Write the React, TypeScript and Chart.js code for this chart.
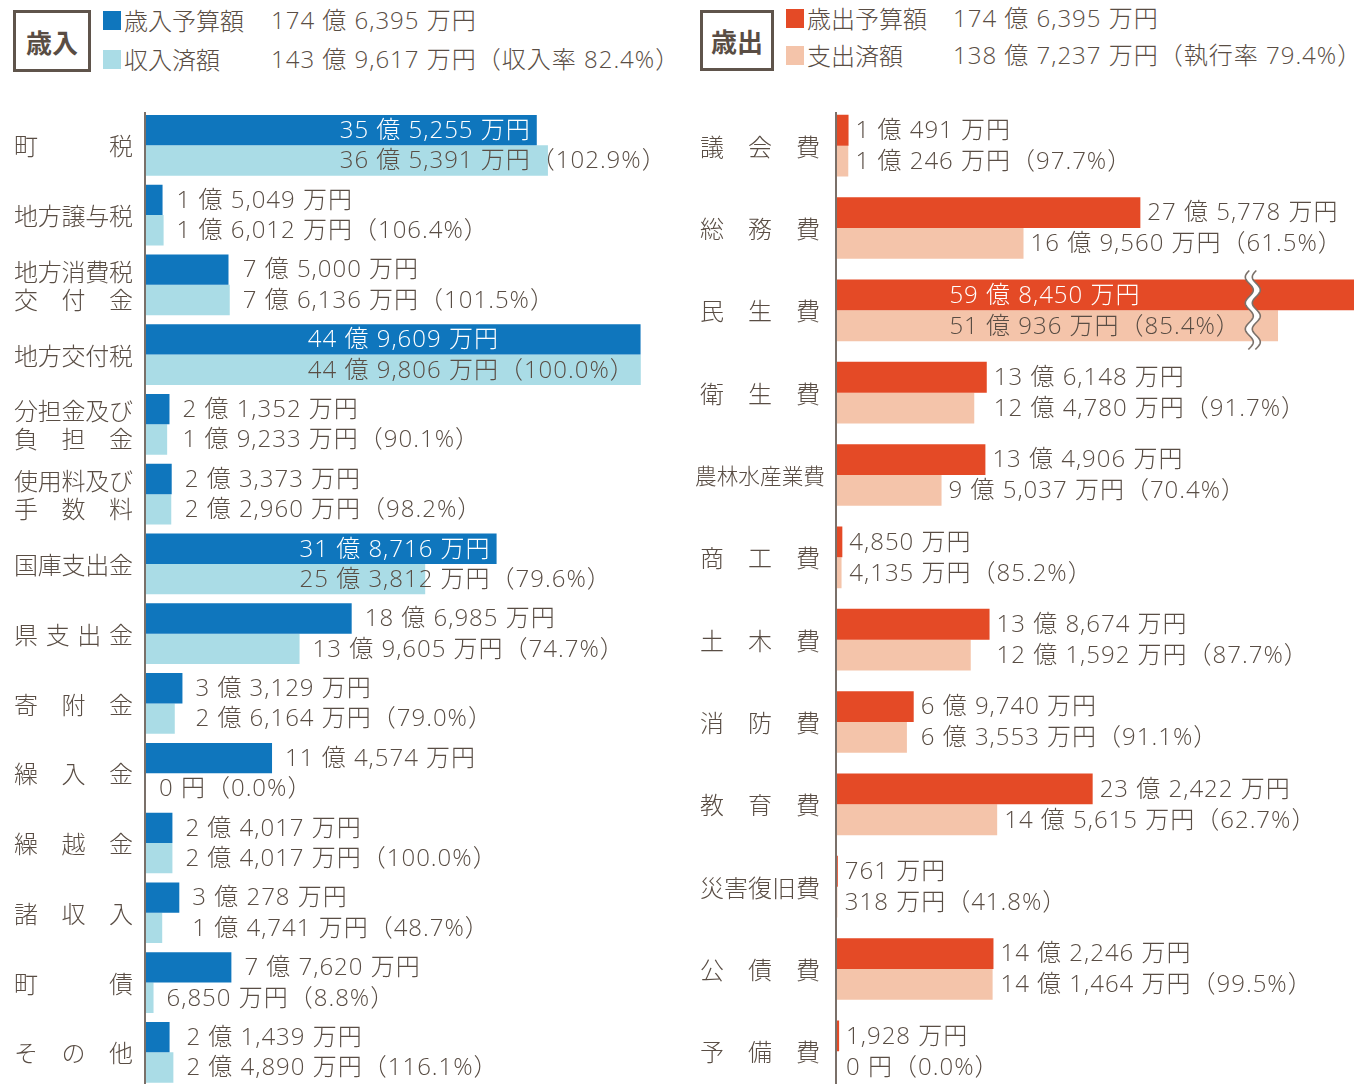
import React, { useEffect, useRef } from 'react';
import { Chart, registerables } from 'chart.js';

Chart.register(...registerables);

const FONT = "'Noto Sans CJK JP', 'Noto Sans', sans-serif";
const VAL_FONT_FAMILY = "'Open Sans', 'Noto Sans CJK JP', sans-serif";
const TEXT_COLOR = '#594d44';
const AXIS_COLOR = '#7a7069';

// ---------- 歳入 (revenue), values in 万円 ----------
const revenueCategories: (string | string[])[] = [
  '町税',
  '地方譲与税',
  ['地方消費税', '交付金'],
  '地方交付税',
  ['分担金及び', '負担金'],
  ['使用料及び', '手数料'],
  '国庫支出金',
  '県支出金',
  '寄附金',
  '繰入金',
  '繰越金',
  '諸収入',
  '町債',
  'その他',
];
const revenueBudget = [355255, 15049, 75000, 449609, 21352, 23373, 318716, 186985, 33129, 114574, 24017, 30278, 77620, 21439];
const revenueActual = [365391, 16012, 76136, 449806, 19233, 22960, 253812, 139605, 26164, 0, 24017, 14741, 6850, 24890];
const revenueRate = [102.9, 106.4, 101.5, 100.0, 90.1, 98.2, 79.6, 74.7, 79.0, 0.0, 100.0, 48.7, 8.8, 116.1];

// ---------- 歳出 (expenditure), values in 万円 ----------
const expenditureCategories: string[] = [
  '議会費', '総務費', '民生費', '衛生費', '農林水産業費', '商工費',
  '土木費', '消防費', '教育費', '災害復旧費', '公債費', '予備費',
];
const expenditureBudget = [10491, 275778, 598450, 136148, 134906, 4850, 138674, 69740, 232422, 761, 142246, 1928];
const expenditureActual = [10246, 169560, 510936, 124780, 95037, 4135, 121592, 63553, 145615, 318, 141464, 0];
const expenditureRate = [97.7, 61.5, 85.4, 91.7, 70.4, 85.2, 87.7, 91.1, 62.7, 41.8, 99.5, 0.0];

// ---------- header (legend) texts ----------
const revenueTitle = '歳入';
const revenueLegend = ['歳入予算額', '収入済額'];
const revenueTotals = ['174 億 6,395 万円', '143 億 9,617 万円（収入率 82.4%）'];
const expenditureTitle = '歳出';
const expenditureLegend = ['歳出予算額', '支出済額'];
const expenditureTotals = ['174 億 6,395 万円', '138 億 7,237 万円（執行率 79.4%）'];

const REV_COLORS = ['#0f76bd', '#aadce6'];
const EXP_COLORS = ['#e44a26', '#f4c4aa'];

const AXIS_TOP = 112;
const CANVAS_H = 1094;
const INSIDE_MIN = 30; // 億: bars longer than this carry their labels inside
const EXP_BREAK = { at: 37.8, gap: 11 }; // 億: axis break for the 民生費 bars

function fmtMan(v: number): string {
  if (v === 0) return '0 円';
  const oku = Math.floor(v / 10000);
  const man = v % 10000;
  const parts: string[] = [];
  if (oku > 0) parts.push(`${oku} 億`);
  if (man > 0) parts.push(`${man.toLocaleString('en-US')} 万円`);
  else parts.push('万円');
  return parts.join(' ');
}

type Brk = { at: number; gap: number } | null;

type PanelCfg = {
  categories: (string | string[])[];
  budget: number[];
  actual: number[];
  rate: number[];
  colors: string[];
  left: number;
  width: number;
  padding: { left: number; right: number; top: number; bottom: number };
  max: number;
  categoryPercentage: number;
  labelX: [number, number];
  gap: number;
  brk: Brk;
};

function drawJustified(ctx: CanvasRenderingContext2D, text: string, x1: number, x2: number, y: number, fs: number) {
  const chars = Array.from(text);
  ctx.font = `300 ${fs}px ${FONT}`;
  let widths = chars.map((c) => ctx.measureText(c).width);
  let total = widths.reduce((a, b) => a + b, 0);
  const W = x2 - x1;
  if (total > W + 3) {
    const target = W + 10;
    const nf = (fs * target) / total;
    ctx.font = `300 ${nf}px ${FONT}`;
    widths = chars.map((c) => ctx.measureText(c).width);
    total = widths.reduce((a, b) => a + b, 0);
    let x = (x1 + x2) / 2 - total / 2;
    chars.forEach((c, i) => {
      ctx.fillText(c, x, y);
      x += widths[i];
    });
    return;
  }
  if (chars.length === 1) {
    ctx.fillText(chars[0], x1, y);
    return;
  }
  const sp = (W - total) / (chars.length - 1);
  let x = x1;
  chars.forEach((c, i) => {
    ctx.fillText(c, x, y);
    x += widths[i] + sp;
  });
}

function makePlugin(cfg: PanelCfg) {
  return {
    id: 'panelDecor',
    afterDatasetsDraw(chart: any) {
      const ctx: CanvasRenderingContext2D = chart.ctx;
      const area = chart.chartArea;
      const xs = chart.scales.x;
      const ys = chart.scales.y;
      const m0 = chart.getDatasetMeta(0);
      const m1 = chart.getDatasetMeta(1);
      ctx.save();

      // axis line
      ctx.strokeStyle = AXIS_COLOR;
      ctx.lineWidth = 2;
      ctx.beginPath();
      ctx.moveTo(area.left - 1, AXIS_TOP);
      ctx.lineTo(area.left - 1, chart.height);
      ctx.stroke();

      const isBroken = (v: number) => !!cfg.brk && v / 10000 > cfg.brk.at;
      const breakPx = cfg.brk ? xs.getPixelForValue(cfg.brk.at) : 0;

      // break symbol
      if (cfg.brk) {
        cfg.budget.forEach((v, i) => {
          if (!isBroken(v)) return;
          const b = m0.data[i];
          const a = m1.data[i];
          const yTop = b.y - b.height / 2 - 9;
          const yBot = a.y + a.height / 2 + 9;
          const amp = 4;
          const wl = 26;
          const pts: number[][] = [];
          for (let y = yTop; y <= yBot + 0.01; y += 1) {
            pts.push([breakPx + amp * Math.sin((2 * Math.PI * (y - yTop)) / wl + Math.PI), y]);
          }
          const half = 3.5;
          ctx.fillStyle = '#ffffff';
          ctx.beginPath();
          pts.forEach(([x, y], k) => (k === 0 ? ctx.moveTo(x - half, y) : ctx.lineTo(x - half, y)));
          for (let k = pts.length - 1; k >= 0; k--) ctx.lineTo(pts[k][0] + half, pts[k][1]);
          ctx.closePath();
          ctx.fill();
          ctx.strokeStyle = AXIS_COLOR;
          ctx.lineWidth = 1.6;
          [-half, half].forEach((off) => {
            ctx.beginPath();
            pts.forEach(([x, y], k) => (k === 0 ? ctx.moveTo(x + off, y) : ctx.lineTo(x + off, y)));
            ctx.stroke();
          });
        });
      }

      // category labels
      ctx.fillStyle = TEXT_COLOR;
      ctx.textBaseline = 'middle';
      ctx.textAlign = 'left';
      cfg.categories.forEach((c, i) => {
        const y = ys.getPixelForValue(i);
        const lines = Array.isArray(c) ? c : [c];
        const lh = 28;
        lines.forEach((ln, j) => {
          drawJustified(ctx, ln, cfg.labelX[0], cfg.labelX[1], y + (j - (lines.length - 1) / 2) * lh + 1, 24);
        });
      });

      // value labels
      ctx.font = `300 24px ${VAL_FONT_FAMILY}`;
      try {
        (ctx as any).letterSpacing = '1px';
      } catch (e) {
        /* ignore */
      }
      cfg.budget.forEach((bv, i) => {
        const av = cfg.actual[i];
        const b = m0.data[i];
        const a = m1.data[i];
        const bt = fmtMan(bv);
        const at = `${fmtMan(av)}（${cfg.rate[i].toFixed(1)}%）`;
        const bEnd = Math.min(b.x, area.right);
        const aEnd = Math.min(a.x, area.right);
        const wb = ctx.measureText(bt).width;
        const wa = ctx.measureText(at).width;
        let xb: number;
        let xa: number;
        let bColor = TEXT_COLOR;
        if (bv / 10000 > INSIDE_MIN) {
          const bLimit = isBroken(bv) ? breakPx - 12 : bEnd - 6;
          const aLimit = isBroken(av) ? breakPx - 12 : aEnd - 6;
          const B = aLimit - wa;
          const x0 = B > area.left + 100 ? B : bLimit - wb;
          xb = x0;
          xa = x0;
          bColor = '#ffffff';
        } else if (Math.abs(bEnd - aEnd) < 30) {
          xb = xa = Math.max(bEnd, aEnd) + cfg.gap;
        } else {
          xb = bEnd + cfg.gap;
          xa = aEnd + cfg.gap;
        }
        ctx.fillStyle = bColor;
        ctx.fillText(bt, xb, b.y + 1);
        ctx.fillStyle = TEXT_COLOR;
        ctx.fillText(at, xa, a.y + 1);
      });
      try {
        (ctx as any).letterSpacing = '0px';
      } catch (e) {
        /* ignore */
      }

      ctx.restore();
    },
  };
}

function Panel({ cfg }: { cfg: PanelCfg }) {
  const ref = useRef<HTMLCanvasElement | null>(null);
  useEffect(() => {
    if (!ref.current) return;
    const toDisplay = (v: number) => {
      const u = v / 10000;
      if (cfg.brk && u > cfg.brk.at) return u - cfg.brk.gap;
      return u;
    };
    const chart = new Chart(ref.current, {
      type: 'bar',
      data: {
        labels: cfg.categories.map((c) => (Array.isArray(c) ? c.join('') : c)),
        datasets: [
          {
            data: cfg.budget.map(toDisplay),
            backgroundColor: cfg.colors[0],
            borderWidth: 0,
            barPercentage: 1,
            categoryPercentage: cfg.categoryPercentage,
          },
          {
            data: cfg.actual.map(toDisplay),
            backgroundColor: cfg.colors[1],
            borderWidth: 0,
            barPercentage: 1,
            categoryPercentage: cfg.categoryPercentage,
          },
        ],
      },
      options: {
        indexAxis: 'y',
        responsive: false,
        animation: false,
        devicePixelRatio: 1,
        layout: { padding: cfg.padding },
        plugins: { legend: { display: false }, tooltip: { enabled: false } },
        scales: {
          x: { type: 'linear', min: 0, max: cfg.max, display: false },
          y: { display: false },
        },
      },
      plugins: [makePlugin(cfg)],
    } as any);
    return () => chart.destroy();
  }, [cfg]);
  return (
    <canvas
      ref={ref}
      width={cfg.width}
      height={CANVAS_H}
      style={{ position: 'absolute', left: cfg.left, top: 0, width: cfg.width, height: CANVAS_H }}
    />
  );
}

const revenueCfg: PanelCfg = {
  categories: revenueCategories,
  budget: revenueBudget,
  actual: revenueActual,
  rate: revenueRate,
  colors: REV_COLORS,
  left: 0,
  width: 690,
  padding: { left: 146, right: 5, top: 110.4, bottom: CANVAS_H - 1087.2 },
  max: 49,
  categoryPercentage: 0.87,
  labelX: [14, 133],
  gap: 13,
  brk: null,
};

const expenditureCfg: PanelCfg = {
  categories: expenditureCategories,
  budget: expenditureBudget,
  actual: expenditureActual,
  rate: expenditureRate,
  colors: EXP_COLORS,
  left: 690,
  width: 664,
  padding: { left: 147, right: 0, top: 104.5, bottom: CANVAS_H - 1092.5 },
  max: 517 / 11,
  categoryPercentage: 0.748,
  labelX: [10, 130],
  gap: 7,
  brk: EXP_BREAK,
};

function Header({
  x, boxW, boxH, title, legend, totals, colors, rowY, sqX, textX, valX,
}: {
  x: number; boxW: number; boxH: number; title: string; legend: string[]; totals: string[];
  colors: string[]; rowY: number[]; sqX: number; textX: number; valX: number;
}) {
  const common: React.CSSProperties = {
    position: 'absolute',
    fontFamily: FONT,
    fontWeight: 300,
    fontSize: 24,
    color: TEXT_COLOR,
    lineHeight: '30px',
    height: 30,
    whiteSpace: 'nowrap',
  };
  return (
    <>
      <div
        style={{
          position: 'absolute',
          left: x,
          top: 10,
          width: boxW,
          height: boxH,
          boxSizing: 'border-box',
          border: `3px solid #5f544b`,
          display: 'flex',
          alignItems: 'center',
          justifyContent: 'center',
          fontFamily: FONT,
          fontWeight: 700,
          fontSize: 26,
          color: TEXT_COLOR,
        }}
      >
        {title}
      </div>
      {legend.map((l, i) => (
        <React.Fragment key={i}>
          <div style={{ position: 'absolute', left: sqX, top: rowY[i] - 9, width: 18, height: 19, background: colors[i] }} />
          <div style={{ ...common, left: textX, top: rowY[i] - 15 }}>{l}</div>
          <div style={{ ...common, fontFamily: VAL_FONT_FAMILY, letterSpacing: '1px', left: valX, top: rowY[i] - 15 }}>
            {totals[i]}
          </div>
        </React.Fragment>
      ))}
    </>
  );
}

export default function App() {
  return (
    <div
      style={{
        position: 'fixed',
        left: 0,
        top: 0,
        width: 1354,
        height: 1084,
        overflow: 'hidden',
        background: '#ffffff',
      }}
    >
      <Header
        x={13} boxW={78} boxH={62} title={revenueTitle} legend={revenueLegend} totals={revenueTotals}
        colors={REV_COLORS} rowY={[20, 59]} sqX={103} textX={124} valX={271}
      />
      <Header
        x={700} boxW={74} boxH={61} title={expenditureTitle} legend={expenditureLegend} totals={expenditureTotals}
        colors={EXP_COLORS} rowY={[18, 55]} sqX={786} textX={807} valX={953}
      />
      <Panel cfg={revenueCfg} />
      <Panel cfg={expenditureCfg} />
    </div>
  );
}
